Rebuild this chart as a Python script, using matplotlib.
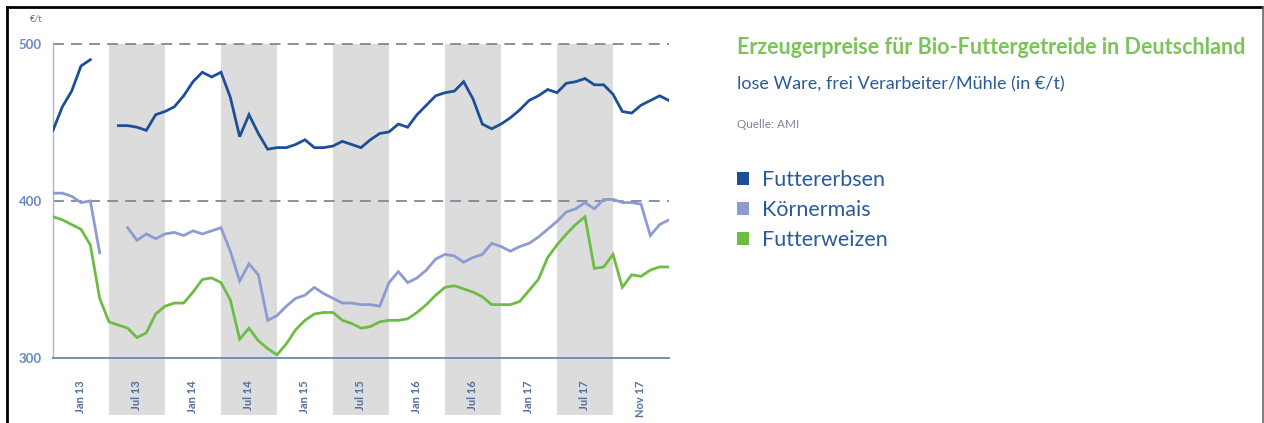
import numpy as np
import matplotlib
matplotlib.use("Agg")
import matplotlib.pyplot as plt
from matplotlib.patches import Patch
from matplotlib.lines import Line2D

# months relative to Jan 2013 (0 = Jan 13), one value per month, NaN = gap
months = np.arange(-3, 64)

erbsen = [445, 460, 470, 486, 490, np.nan, np.nan,
          448, 448, 447, 445, 455, 457, 460, 467, 476, 482, 479, 482, 466, 441,
          455, 443, 433, 434, 434, 436, 439, 434, 434, 435, 438, 436, 434, 439,
          443, 444, 449, 447, 455, 461, 467, 469, 470, 476, 465, 449, 446, 449,
          453, 458, 464, 467, 471, 469, 475, 476, 478, 474, 474, 468, 457, 456,
          461, 464, 467, 464]

mais = [405, 405, 403, 399, 400, 367, np.nan, np.nan,
        383, 375, 379, 376, 379, 380, 378, 381, 379, 381, 383, 368, 349,
        360, 353, 324, 327, 333, 338, 340, 345, 341, 338, 335, 335, 334, 334,
        333, 348, 355, 348, 351, 356, 363, 366, 365, 361, 364, 366, 373, 371,
        368, 371, 373, 377, 382, 387, 393, 395, 399, 395, 401, 401, 399, 399,
        398, 378, 385, 388]

weizen = [390, 388, 385, 382, 372, 338, 323,
          321, 319, 313, 316, 328, 333, 335, 335, 342, 350, 351, 348, 337, 312,
          319, 311, 306, 302, 309, 318, 324, 328, 329, 329, 324, 322, 319, 320,
          323, 324, 324, 325, 329, 334, 340, 345, 346, 344, 342, 339, 334, 334,
          334, 336, 343, 350, 364, 372, 379, 385, 390, 357, 358, 366, 345, 353,
          352, 356, 358, 358]

series_names = ["Futtererbsen", "Körnermais", "Futterweizen"]
series_colors = ["#1d4f98", "#8d9bd2", "#6dbd45"]

tick_pos = [0, 6, 12, 18, 24, 30, 36, 42, 48, 54, 60]
tick_labels = ["Jan 13", "Jul 13", "Jan 14", "Jul 14", "Jan 15", "Jul 15",
               "Jan 16", "Jul 16", "Jan 17", "Jul 17", "Nov 17"]
bands = [(3, 9), (15, 21), (27, 33), (39, 45), (51, 57)]

W, H = 1264, 423
fig = plt.figure(figsize=(W / 100, H / 100), dpi=100)
fig.patch.set_facecolor("white")
plt.rcParams["font.family"] = ["Lato", "DejaVu Sans"]

ax = fig.add_axes([53 / W, 1 - 358 / H, (669 - 53) / W, (358 - 44) / H])
ax.set_facecolor("none")

for a, b in bands:
    ax.axvspan(a, b, ymin=-0.18, ymax=1, color="#dcdcdc", lw=0, zorder=0, clip_on=False)

for yv in (400, 500):
    ax.axhline(yv, color="#7d8898", lw=1.3, ls=(0, (6, 4)), zorder=1, clip_on=False)

for vals, c in zip([erbsen, mais, weizen], series_colors):
    ax.plot(months, np.array(vals, dtype=float), color=c, lw=2.0, zorder=3,
            solid_joinstyle="miter")

ax.set_xlim(-3, 63)
ax.set_ylim(300, 500)
for s in ["top", "right"]:
    ax.spines[s].set_visible(False)
ax.spines["left"].set_color("#a8b8cc")
ax.spines["left"].set_linewidth(1.0)
ax.spines["bottom"].set_color("#6a88b0")
ax.spines["bottom"].set_linewidth(1.3)

ax.set_yticks([300, 400, 500])
ax.set_xticks(tick_pos)
ax.set_xticklabels(tick_labels, rotation=90, fontsize=8, color="#4d6fa6",
                   fontweight="bold")
ax.tick_params(axis="x", length=0, pad=16)
ax.tick_params(axis="y", length=0, pad=8, labelsize=9.5, labelcolor="#6a88c0")
for lbl in ax.get_yticklabels():
    lbl.set_fontweight("bold")
ax.text(-0.038, 1.08, "€/t", transform=ax.transAxes, fontsize=6.5,
        color="#5a6f90", ha="left", va="center")

# text block on the right
fig.text(737 / W, 1 - 48 / H, "Erzeugerpreise für Bio-Futtergetreide in Deutschland",
         fontsize=15.5, fontweight="bold", color="#7cc35a", ha="left", va="center")
fig.text(737 / W, 1 - 84 / H, "lose Ware, frei Verarbeiter/Mühle (in €/t)",
         fontsize=13, color="#2b5a9c", ha="left", va="center")
fig.text(737 / W, 1 - 124 / H, "Quelle: AMI", fontsize=8.5, color="#7a8594",
         ha="left", va="center")

handles = [Patch(facecolor=c, edgecolor="none", label=n)
           for n, c in zip(series_names, series_colors)]
fig.legend(handles=handles, loc="upper left", bbox_to_anchor=(737 / W, 1 - 170 / H),
           frameon=False, fontsize=15.5, borderpad=0, borderaxespad=0,
           handlelength=0.56, handleheight=0.56,
           handletextpad=0.6, labelspacing=0.47, labelcolor="#2b5a9c")

# outer frame
fig.add_artist(Line2D([7 / W, 7 / W], [0, 1 - 7 / H], color="black", lw=2))
fig.add_artist(Line2D([7 / W, 1262 / W], [1 - 7 / H, 1 - 7 / H], color="black", lw=2))
fig.add_artist(Line2D([1262.5 / W, 1262.5 / W], [0, 1 - 7 / H], color="#666666", lw=1.2))

fig.savefig("out.png", dpi=100)
